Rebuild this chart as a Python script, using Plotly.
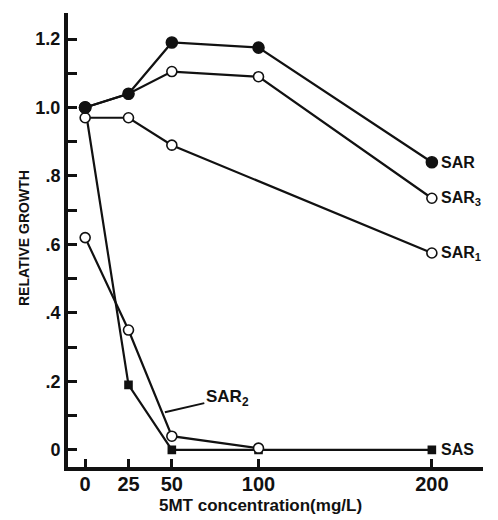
import plotly.graph_objects as go

# ---- data ----
conc = [0, 25, 50, 100, 200]
sar = [1.00, 1.04, 1.19, 1.175, 0.84]
sar3 = [1.00, 1.04, 1.105, 1.09, 0.735]
sar1_conc = [0, 25, 50, 200]
sar1 = [0.97, 0.97, 0.89, 0.575]
sar2_conc = [0, 25, 50, 100]
sar2 = [0.62, 0.35, 0.04, 0.005]
sas = [1.00, 0.19, 0.0, 0.0, 0.0]

x_ticks = [0, 25, 50, 100, 200]
y_ticks = [0, 0.2, 0.4, 0.6, 0.8, 1.0, 1.2]
y_ticktext = ["0", ".2", ".4", ".6", ".8", "1.0", "1.2"]
y_minor = [0.1, 0.3, 0.5, 0.7, 0.9, 1.1]

labels = {"SAR": (200, 0.84), "SAR<sub>3</sub>": (200, 0.735),
          "SAR<sub>1</sub>": (200, 0.575), "SAS": (200, 0.0)}

INK = "#111111"
FONT = "Liberation Sans, Arial, sans-serif"

fig = go.Figure()

def add(x, y, filled, size, symbol="circle"):
    fig.add_trace(go.Scatter(
        x=x, y=y, mode="lines+markers",
        line=dict(color=INK, width=2.2),
        marker=dict(symbol=symbol, size=size,
                    color=INK if filled else "white",
                    line=dict(color=INK, width=1.6)),
        showlegend=False, cliponaxis=False))

add(conc, sas, True, 7, "square")
add(sar2_conc, sar2, False, 10)
add(sar1_conc, sar1, False, 10)
add(conc, sar3, False, 10)
add(conc, sar, True, 11)
# big filled dot at the shared starting value of SAR & SAS
fig.add_trace(go.Scatter(x=[conc[0]], y=[sas[0]], mode="markers",
                         marker=dict(size=13, color=INK),
                         showlegend=False, cliponaxis=False))

for txt, (lx, ly) in labels.items():
    fig.add_annotation(x=lx, y=ly, text="<b>" + txt + "</b>", showarrow=False,
                       xanchor="left", yanchor="middle", xshift=7,
                       font=dict(family=FONT, size=16, color=INK))

# SAR2 label with leader line
fig.add_annotation(x=46, y=0.11, ax=82, ay=0.152, axref="x", ayref="y",
                   text="<b>SAR<sub>2</sub></b>", showarrow=True, arrowhead=0,
                   arrowwidth=2, arrowcolor=INK, standoff=0,
                   font=dict(family=FONT, size=17, color=INK))

# axis titles
fig.add_annotation(xref="paper", yref="paper", x=0, y=0.5, xshift=-44, yshift=2,
                   xanchor="center", yanchor="middle",
                   text="<b>RELATIVE GROWTH</b>", textangle=-90, showarrow=False,
                   font=dict(family=FONT, size=14, color=INK))
fig.add_annotation(xref="paper", yref="paper", x=0.465, y=0, yshift=-38,
                   xanchor="center", yanchor="middle",
                   text="<b>5MT concentration(mg/L)</b>", showarrow=False,
                   font=dict(family=FONT, size=17, color=INK))

fig.update_xaxes(range=[-9.9, 229.5], tickvals=x_ticks,
                 ticktext=["<b>%d</b>" % v for v in x_ticks],
                 ticks="inside", ticklen=8, tickwidth=3, tickcolor=INK,
                 ticklabelstandoff=-4,
                 showline=True, linewidth=4, linecolor=INK,
                 showgrid=False, zeroline=False,
                 tickfont=dict(family=FONT, size=20, color=INK))
fig.update_yaxes(range=[-0.05, 1.276], tickvals=y_ticks,
                 ticktext=["<b>%s</b>" % t for t in y_ticktext],
                 ticks="inside", ticklen=9, tickwidth=3, tickcolor=INK,
                 minor=dict(tickvals=y_minor, ticks="inside", ticklen=9,
                            tickwidth=3, tickcolor=INK),
                 showline=True, linewidth=4, linecolor=INK,
                 showgrid=False, zeroline=False,
                 tickfont=dict(family=FONT, size=18, color=INK))

fig.update_layout(width=490, height=512,
                  margin=dict(l=60, r=15, t=5, b=53),
                  plot_bgcolor="white", paper_bgcolor="white")

fig.write_html("out.html")
